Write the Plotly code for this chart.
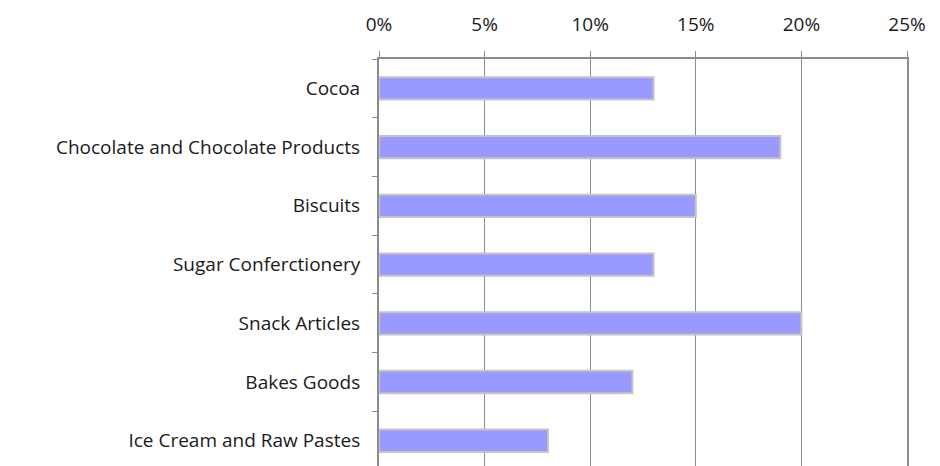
import plotly.graph_objects as go

# Share of products by category (percent)
categories = [
    "Cocoa",
    "Chocolate and Chocolate Products",
    "Biscuits",
    "Sugar Conferctionery",
    "Snack Articles",
    "Bakes Goods",
    "Ice Cream and Raw Pastes",
]
shares = [13, 19, 15, 13, 20, 12, 8]
x_ticks = [0, 5, 10, 15, 20, 25]
x_tick_labels = ["0%", "5%", "10%", "15%", "20%", "25%"]

axis_gray = "#8c8c8c"

fig = go.Figure(
    go.Bar(
        y=categories,
        x=shares,
        orientation="h",
        width=0.38,
        marker=dict(color="#9999ff", line=dict(color="#c4c4c4", width=2)),
        hoverinfo="x+y",
    )
)

fig.update_layout(
    width=940,
    height=466,
    margin=dict(l=379, r=33, t=59, b=0),
    paper_bgcolor="white",
    plot_bgcolor="white",
    showlegend=False,
    font=dict(family="Open Sans, DejaVu Sans, sans-serif", size=19, color="#1a1a1a"),
    xaxis=dict(
        side="top",
        range=[0, 25],
        tickvals=x_ticks,
        ticktext=x_tick_labels,
        showgrid=True,
        gridcolor=axis_gray,
        gridwidth=1,
        showline=True,
        linecolor=axis_gray,
        linewidth=2,
        ticks="outside",
        ticklen=6,
        tickcolor=axis_gray,
        ticklabelstandoff=12,
        zeroline=False,
        fixedrange=True,
    ),
    yaxis=dict(
        type="category",
        categoryorder="array",
        categoryarray=categories,
        range=[6.43, -0.5],
        showline=True,
        mirror=True,
        linecolor=axis_gray,
        linewidth=2,
        ticks="outside",
        tickson="boundaries",
        ticklen=5,
        tickcolor=axis_gray,
        ticklabelstandoff=13,
        showgrid=False,
        zeroline=False,
        fixedrange=True,
    ),
)

fig.write_html("out.html")
